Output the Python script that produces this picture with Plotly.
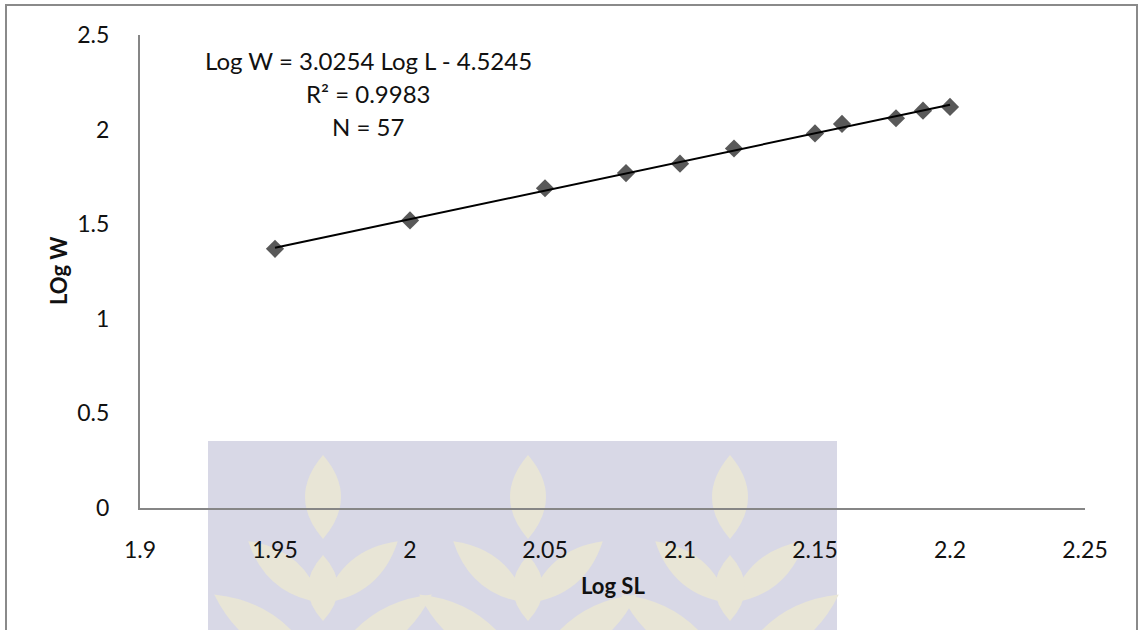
import math
import plotly.graph_objects as go

# Length-weight data (log10 standard length vs log10 weight)
log_sl = [1.95, 2.00, 2.05, 2.08, 2.10, 2.12, 2.15, 2.16, 2.18, 2.19, 2.20]
log_w = [1.37, 1.52, 1.69, 1.77, 1.82, 1.90, 1.98, 2.03, 2.06, 2.10, 2.12]

# Fitted regression
slope = 3.0254
intercept = -4.5245
r_squared = 0.9983
n_fish = 57

x_ticks = [1.9, 1.95, 2.0, 2.05, 2.1, 2.15, 2.2, 2.25]
x_tick_labels = ["1.9", "1.95", "2", "2.05", "2.1", "2.15", "2.2", "2.25"]
y_ticks = [0, 0.5, 1, 1.5, 2, 2.5]
y_tick_labels = ["0", "0.5", "1", "1.5", "2", "2.5"]

# Page geometry
W, H = 1138, 630
ML, MR, MT, MB = 140, 53, 35, 122
PW, PH = W - ML - MR, H - MT - MB
FONT = "Lato"
TXT = "#111111"


def px(x, y):
    """Pixel position on the page -> paper coordinates."""
    return (x - ML) / PW, (H - MB - y) / PH


def leaf_path(cx, cy, length, width, angle_deg):
    """Pointed leaf outline, axis tilted angle_deg from vertical."""
    a = math.radians(angle_deg)
    ux, uy = math.sin(a), -math.cos(a)
    vx, vy = math.cos(a), math.sin(a)
    h = length / 2
    pts = [(cx + ux * h, cy + uy * h), (cx + vx * width, cy + vy * width),
           (cx - ux * h, cy - uy * h), (cx - vx * width, cy - vy * width)]
    p = [px(*q) for q in pts]
    return (f"M {p[0][0]},{p[0][1]} Q {p[1][0]},{p[1][1]} {p[2][0]},{p[2][1]} "
            f"Q {p[3][0]},{p[3][1]} {p[0][0]},{p[0][1]} Z")


shapes = []

# Emblem watermark in the lower part of the page
x0, y0 = px(208, 441)
x1, y1 = px(837, 640)
shapes.append(dict(type="rect", xref="paper", yref="paper", x0=x0, y0=y1, x1=x1, y1=y0,
                   fillcolor="#d8d8e6", line=dict(width=0), layer="below"))
leaf_color = "#e8e5d6"
for cx in [323, 528, 730]:
    leaves = [
        (cx, 497, 84, 36, 0),
        (cx - 38, 572, 96, 30, -50),
        (cx + 38, 572, 96, 30, 50),
        (cx, 588, 66, 30, 0),
        (cx - 58, 630, 124, 34, -55),
        (cx + 58, 630, 124, 34, 55),
    ]
    for lx, ly, ll, lw, la in leaves:
        shapes.append(dict(type="path", xref="paper", yref="paper",
                           path=leaf_path(lx, ly, ll, lw, la),
                           fillcolor=leaf_color, line=dict(width=0), layer="below"))

# Outer chart frame (open at the bottom edge of the page)
fx0, fy0 = px(6, 5)
fx1, fy1 = px(1137, 660)
shapes.append(dict(type="rect", xref="paper", yref="paper", x0=fx0, y0=fy1, x1=fx1, y1=fy0,
                   fillcolor="rgba(0,0,0,0)", line=dict(color="#8a8a8a", width=2), layer="above"))

fig = go.Figure()

fig.add_trace(go.Scatter(
    x=log_sl, y=log_w, mode="markers",
    marker=dict(symbol="diamond", size=14, color="#595959", line=dict(width=0)),
    showlegend=False, hoverinfo="x+y",
))

trend_x = [min(log_sl), max(log_sl)]
trend_y = [slope * v + intercept for v in trend_x]
fig.add_trace(go.Scatter(
    x=trend_x, y=trend_y, mode="lines",
    line=dict(color="#000000", width=2), showlegend=False, hoverinfo="skip",
))

annotations = []
eq_lines = [
    f"Log W = {slope:.4f} Log L - {abs(intercept):.4f}",
    f"R² = {r_squared:.4f}",
    f"N = {n_fish}",
]
for text, yy in zip(eq_lines, [61, 94, 127]):
    ax, ay = px(368, yy)
    annotations.append(dict(x=ax, y=ay, xref="paper", yref="paper", text=text,
                            showarrow=False, xanchor="center", yanchor="middle",
                            font=dict(family=FONT, size=24, color=TXT)))

tx, ty = px(613, 585)
annotations.append(dict(x=tx, y=ty, xref="paper", yref="paper", text="<b>Log SL</b>",
                        showarrow=False, xanchor="center", yanchor="middle",
                        font=dict(family=FONT, size=22, color=TXT)))
tx, ty = px(58, 271)
annotations.append(dict(x=tx, y=ty, xref="paper", yref="paper", text="<b>LOg W</b>",
                        showarrow=False, xanchor="center", yanchor="middle", textangle=-90,
                        font=dict(family=FONT, size=22, color=TXT)))

fig.update_layout(
    width=W, height=H,
    margin=dict(l=ML, r=MR, t=MT, b=MB, autoexpand=False),
    paper_bgcolor="#ffffff", plot_bgcolor="rgba(0,0,0,0)",
    shapes=shapes, annotations=annotations,
    xaxis=dict(range=[1.9, 2.25], tickvals=x_ticks, ticktext=x_tick_labels,
               showgrid=False, zeroline=False, showline=True, linecolor="#868686", linewidth=2,
               ticks="outside", ticklen=20, tickcolor="rgba(0,0,0,0)",
               tickfont=dict(family=FONT, size=23, color=TXT)),
    yaxis=dict(range=[0, 2.5], tickvals=y_ticks, ticktext=y_tick_labels,
               showgrid=False, zeroline=False, showline=True, linecolor="#868686", linewidth=2,
               ticks="outside", ticklen=24, tickcolor="rgba(0,0,0,0)",
               tickfont=dict(family=FONT, size=23, color=TXT)),
)

fig.write_html("out.html")
